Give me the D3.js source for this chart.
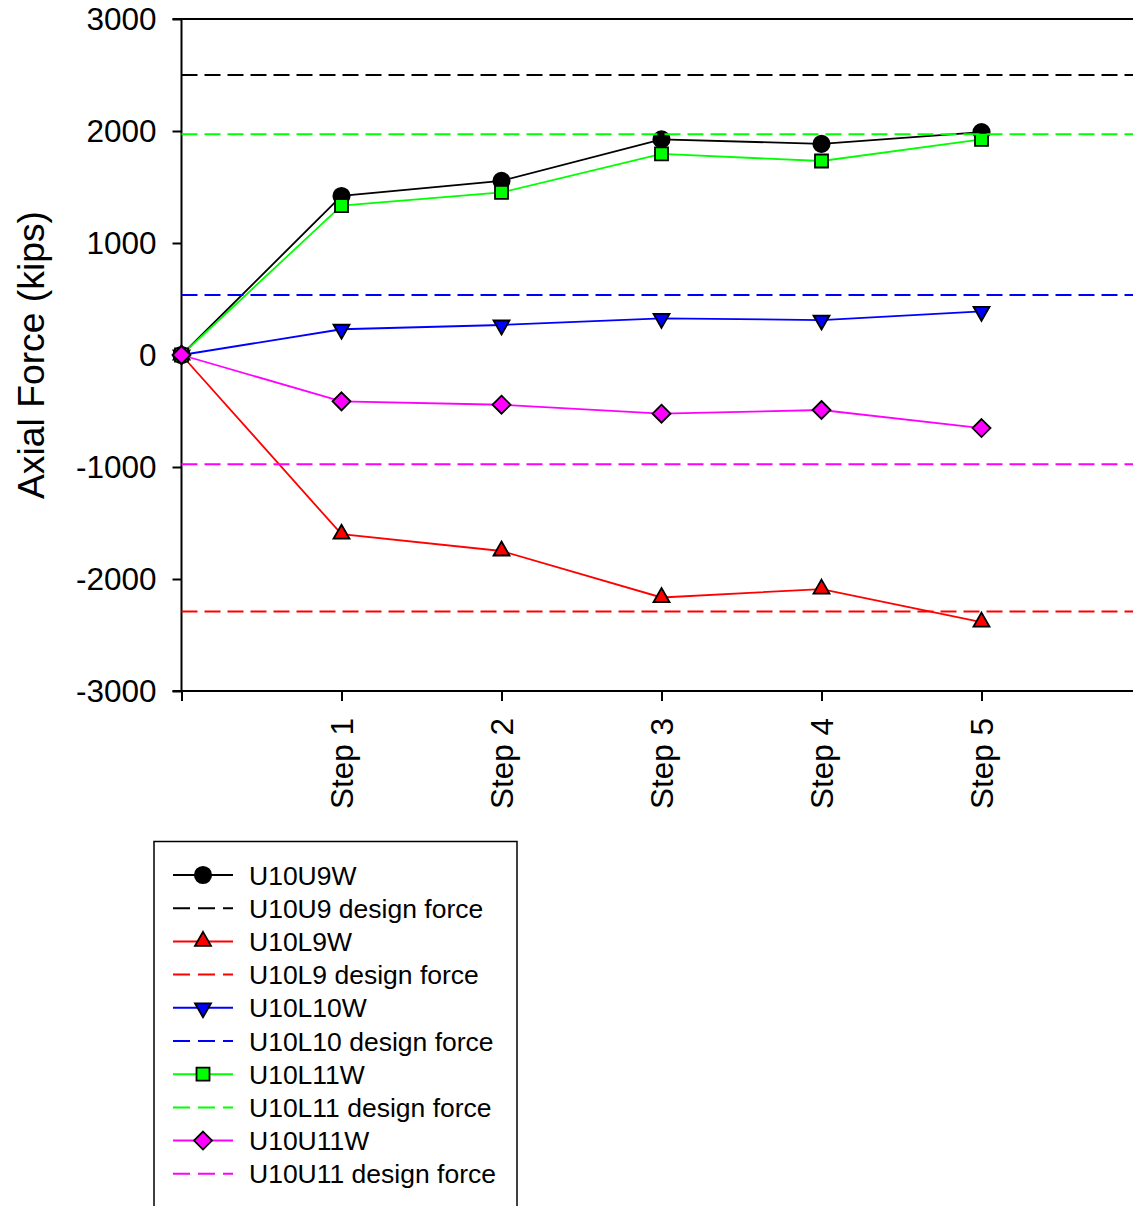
<!DOCTYPE html>
<html>
<head>
<meta charset="utf-8">
<script src="https://cdn.jsdelivr.net/npm/d3@7"></script>
<style>
  html, body { margin: 0; padding: 0; background: #fff; }
  svg { display: block; font-family: "Liberation Sans", Arial, sans-serif; }
</style>
</head>
<body>
<svg id="chart" width="1133" height="1206"></svg>
<script>
// Load steps and measured axial forces (kips) per member
const stepLabels = ["", "Step 1", "Step 2", "Step 3", "Step 4", "Step 5"];
const stepIndex = [0, 1, 2, 3, 4, 5];
const yTicks = [-3000, -2000, -1000, 0, 1000, 2000, 3000];

const u10u9w  = [0, 1420, 1555, 1925, 1885, 1990];
const u10l9w  = [0, -1600, -1750, -2165, -2090, -2385];
const u10l10w = [0, 230, 268, 327, 312, 390];
const u10l11w = [0, 1333, 1452, 1795, 1732, 1925];
const u10u11w = [0, -414, -444, -524, -491, -652];

// Design forces (kips)
const u10u9Design  = 2500;
const u10l9Design  = -2290;
const u10l10Design = 535;
const u10l11Design = 1970;
const u10u11Design = -975;

const svg = d3.select("#chart");

const plotLeft = 181.5, plotTop = 19, plotBottom = 691;
const x = d3.scaleLinear().domain([0, 6]).range([plotLeft, plotLeft + 960]);
const y = d3.scaleLinear().domain([-3000, 3000]).range([plotBottom, plotTop]);

// Marker shapes
function markerPath(kind) {
  switch (kind) {
    case "circle":   return d3.symbol(d3.symbolCircle, 210)();
    case "triUp":    return "M0,-9.5L8,4.5L-8,4.5Z";
    case "triDown":  return "M0,9.5L8,-4.5L-8,-4.5Z";
    case "square":   return "M-6.5,-6.5H6.5V6.5H-6.5Z";
    case "diamond":  return "M0,-9L9,0L0,9L-9,0Z";
  }
}

const items = [
  { name: "U10U9W", type: "series", values: u10u9w, color: "#000000", marker: "circle" },
  { name: "U10U9 design force", type: "design", value: u10u9Design, color: "#000000" },
  { name: "U10L9W", type: "series", values: u10l9w, color: "#ff0000", marker: "triUp" },
  { name: "U10L9 design force", type: "design", value: u10l9Design, color: "#ff0000" },
  { name: "U10L10W", type: "series", values: u10l10w, color: "#0000ff", marker: "triDown" },
  { name: "U10L10 design force", type: "design", value: u10l10Design, color: "#0000ff" },
  { name: "U10L11W", type: "series", values: u10l11w, color: "#00ff00", marker: "square" },
  { name: "U10L11 design force", type: "design", value: u10l11Design, color: "#00ff00" },
  { name: "U10U11W", type: "series", values: u10u11w, color: "#ff00ff", marker: "diamond" },
  { name: "U10U11 design force", type: "design", value: u10u11Design, color: "#ff00ff" }
];

const dash = "16,7";

// Axes
const yAxis = d3.axisLeft(y).tickValues(yTicks).tickSize(9).tickPadding(16).tickFormat(d => String(d));
const gy = svg.append("g").attr("transform", `translate(${plotLeft},0)`).call(yAxis);
gy.select(".domain").remove();
gy.selectAll(".tick line").attr("stroke", "#000").attr("stroke-width", 2);
gy.selectAll(".tick text").attr("font-size", 31.5).attr("fill", "#000")
  .attr("font-family", "Liberation Sans, Arial, sans-serif");

const xAxis = d3.axisBottom(x).tickValues(stepIndex).tickSize(10).tickFormat(i => stepLabels[i]);
const gx = svg.append("g").attr("transform", `translate(0,${plotBottom})`).call(xAxis);
gx.select(".domain").remove();
gx.selectAll(".tick line").attr("stroke", "#000").attr("stroke-width", 2);
gx.selectAll(".tick text")
  .attr("font-size", 31.5).attr("fill", "#000")
  .attr("font-family", "Liberation Sans, Arial, sans-serif")
  .attr("text-anchor", "end")
  .attr("transform", "rotate(-90)")
  .attr("x", -27).attr("y", 0).attr("dy", "0.36em");

// Frame lines: left axis, top edge and bottom axis
svg.append("line").attr("x1", plotLeft).attr("x2", plotLeft).attr("y1", plotTop).attr("y2", plotBottom)
  .attr("stroke", "#000").attr("stroke-width", 2);
svg.append("line").attr("x1", plotLeft - 9).attr("x2", 1133).attr("y1", plotTop).attr("y2", plotTop)
  .attr("stroke", "#000").attr("stroke-width", 2);
svg.append("line").attr("x1", plotLeft - 9).attr("x2", 1133).attr("y1", plotBottom).attr("y2", plotBottom)
  .attr("stroke", "#000").attr("stroke-width", 2);

// Y axis title
svg.append("text")
  .attr("transform", `translate(44,${(plotTop + plotBottom) / 2}) rotate(-90)`)
  .attr("text-anchor", "middle")
  .attr("font-size", 37.3)
  .attr("fill", "#000")
  .text("Axial Force (kips)");

// Plot content
const plot = svg.append("g");
const line = d3.line().x((d, i) => x(i)).y(d => y(d));

items.forEach(it => {
  if (it.type === "design") {
    plot.append("line")
      .attr("x1", plotLeft).attr("x2", x(6))
      .attr("y1", y(it.value)).attr("y2", y(it.value))
      .attr("stroke", it.color).attr("stroke-width", 2)
      .attr("stroke-dasharray", dash);
  } else {
    plot.append("path")
      .attr("d", line(it.values))
      .attr("fill", "none")
      .attr("stroke", it.color)
      .attr("stroke-width", 1.8);
    plot.selectAll(null).data(it.values).enter().append("path")
      .attr("transform", (d, i) => `translate(${x(i)},${y(d)})`)
      .attr("d", markerPath(it.marker))
      .attr("fill", it.color)
      .attr("stroke", "#000")
      .attr("stroke-width", 1.8);
  }
});

// Legend
const lg = svg.append("g");
lg.append("rect")
  .attr("x", 154).attr("y", 841.5).attr("width", 363).attr("height", 420)
  .attr("fill", "#fff").attr("stroke", "#000").attr("stroke-width", 1.5);

items.forEach((it, i) => {
  const cy = 875 + i * 33.2;
  const row = lg.append("g").attr("transform", `translate(0,${cy})`);
  row.append("line")
    .attr("x1", 173).attr("x2", 233).attr("y1", 0).attr("y2", 0)
    .attr("stroke", it.color).attr("stroke-width", 2)
    .attr("stroke-dasharray", it.type === "design" ? "17,8" : null);
  if (it.type === "series") {
    row.append("path")
      .attr("transform", "translate(203,0)")
      .attr("d", markerPath(it.marker))
      .attr("fill", it.color).attr("stroke", "#000").attr("stroke-width", 1.8);
  }
  row.append("text")
    .attr("x", 249).attr("y", 0).attr("dy", "0.36em")
    .attr("font-size", 26.5).attr("fill", "#000")
    .text(it.name);
});
</script>
</body>
</html>
